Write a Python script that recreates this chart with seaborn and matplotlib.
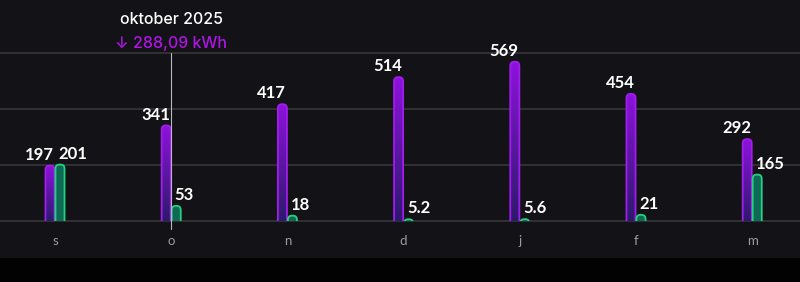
import numpy as np
import pandas as pd
import matplotlib
matplotlib.use('Agg')
import matplotlib.pyplot as plt
import seaborn as sns
from matplotlib.patches import FancyBboxPatch, Rectangle
from matplotlib.colors import LinearSegmentedColormap

# data
months = ['s', 'o', 'n', 'd', 'j', 'f', 'm']
consumed = [197, 341, 417, 514, 569, 454, 292]
returned = [201, 53, 18, 5.2, 5.6, 21, 165]
tip_title = 'oktober 2025'
tip_value = '288,09 kWh'

bg = '#131317'
grid_c = '#36363b'
purple_edge = '#a21cf0'
green_edge = '#22d27f'
green_fill = '#0e6a55'

sns.set_theme(style='dark')
plt.rcParams['font.family'] = ['Lato', 'DejaVu Sans']

df = pd.DataFrame({
    'month': months * 2,
    'kwh': consumed + returned,
    'kind': ['in'] * len(months) + ['out'] * len(months),
})

fig = plt.figure(figsize=(8, 2.82), dpi=100, facecolor=bg)
ax = fig.add_axes([0, (282 - 220.7) / 282, 1, 220.7 / 282])
ax.set_facecolor(bg)

sns.barplot(data=df, x='month', y='kwh', hue='kind', ax=ax, width=0.172,
            gap=0, legend=False, palette=[purple_edge, green_edge])

ax.set_xlim(-55 / 116.2, (800 - 55) / 116.2)
ax.set_ylim(0, 790)

# y units per px / x units per px for round corners
aspect = (790 / 220.7) / (1 / 116.2)
cmap = LinearSegmentedColormap.from_list('p', ['#8d12dc', '#2c1a6c'])

bars = list(ax.patches)
for p in bars:
    p.set_visible(False)

for i, p in enumerate(bars):
    x0, w, h = p.get_x(), p.get_width(), p.get_height()
    if h <= 0:
        continue
    is_in = i < len(months)
    box = FancyBboxPatch((x0 + 0.004, -20), w - 0.008, h + 20,
                         boxstyle='round,pad=0,rounding_size=0.035',
                         mutation_aspect=aspect, lw=1.3,
                         edgecolor=purple_edge if is_in else green_edge,
                         facecolor='none' if is_in else green_fill, zorder=3)
    ax.add_patch(box)
    if is_in:
        grad = np.linspace(0, 1, 100).reshape(-1, 1)
        im = ax.imshow(grad, cmap=cmap, aspect='auto', extent=(x0, x0 + w, 0, h),
                       origin='upper', zorder=2)
        im.set_clip_path(box)
    lab = f'{h:g}'
    if is_in:
        ax.text(x0 + w - 0.01, h + 10, lab, ha='right', va='bottom', color='white',
                fontsize=12, fontweight='bold', zorder=5)
    else:
        ax.text(x0 + 0.03, h + 10, lab, ha='left', va='bottom', color='white',
                fontsize=12, fontweight='bold', zorder=5)

ax.set_xlim(-55 / 116.2, (800 - 55) / 116.2)
ax.set_ylim(0, 790)

for y in [0, 200, 400, 600]:
    ax.axhline(y, color=grid_c, lw=1.2, zorder=1, clip_on=False)

# tooltip marker
ax.plot([1, 1], [-28, 602], color='#b8b8bc', lw=0.8, zorder=6, clip_on=False)
ax.text(1, 720, tip_title, ha='center', va='center', color='white', fontsize=11.5,
        family=['Inter', 'DejaVu Sans'], fontweight='medium')
ax.text(1, 635, '\u2193 ' + tip_value, ha='center', va='center', color='#b013e6',
        fontsize=11.5, family=['Inter', 'DejaVu Sans'], fontweight='medium')

ax.set_xlabel('')
ax.set_ylabel('')
ax.set_yticks([])
ax.tick_params(axis='x', colors='#9a9aa0', labelsize=9.5, length=0, pad=10)
for s in ax.spines.values():
    s.set_visible(False)
ax.grid(False)

fig.patches.append(Rectangle((0, 0), 1, (282 - 257.5) / 282, transform=fig.transFigure,
                             facecolor='#020203', edgecolor='none', zorder=0))

fig.savefig('out.png', dpi=100, facecolor=bg)
